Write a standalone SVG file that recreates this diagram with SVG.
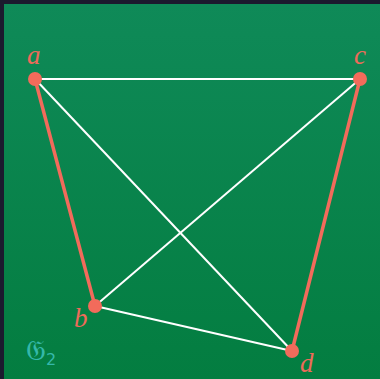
<svg xmlns="http://www.w3.org/2000/svg" width="380" height="379" viewBox="0 0 380 379">
  <defs>
    <linearGradient id="bg" x1="0" y1="0" x2="0" y2="1">
      <stop offset="0" stop-color="#0f8a58"/>
      <stop offset="1" stop-color="#037d40"/>
    </linearGradient>
    <style>
      .w { stroke: #ffffff; stroke-width: 2; fill: none; }
      .r { stroke: #f26b5b; stroke-width: 3.5; fill: none; stroke-linecap: round; }
      .n { fill: #f26b5b; }
      .lbl { font-family: "Liberation Serif", "DejaVu Serif", serif; font-style: italic; font-size: 27px; fill: #ee6b5a; }
      .g { font-family: "DejaVu Sans", "Noto Sans", serif; font-size: 28px; fill: #35b8aa; }
    </style>
  </defs>
  <rect x="0" y="0" width="380" height="379" fill="#1b1a2e"/>
  <rect x="4" y="4" width="376" height="375" fill="url(#bg)"/>
  <g id="connectors">
    <line class="w" x1="35" y1="79" x2="360" y2="79"/>
    <line class="w" x1="35" y1="79" x2="292" y2="351"/>
    <line class="w" x1="360" y1="79" x2="95" y2="306"/>
    <line class="w" x1="95" y1="306" x2="292" y2="351"/>
    <line class="r" x1="35" y1="79" x2="95" y2="306"/>
    <line class="r" x1="360" y1="79" x2="292" y2="351"/>
  </g>
  <g id="node-a"><circle class="n" cx="35" cy="79" r="7"/><text class="lbl" x="27" y="64">a</text></g>
  <g id="node-c"><circle class="n" cx="360" cy="79" r="7"/><text class="lbl" x="354" y="64">c</text></g>
  <g id="node-b"><circle class="n" cx="95" cy="306" r="7"/><text class="lbl" x="74" y="327">b</text></g>
  <g id="node-d"><circle class="n" cx="292" cy="351" r="7"/><text class="lbl" x="300" y="372">d</text></g>
  <text class="g" x="26" y="360">𝔊<tspan font-size="16" dy="5">2</tspan></text>
</svg>
